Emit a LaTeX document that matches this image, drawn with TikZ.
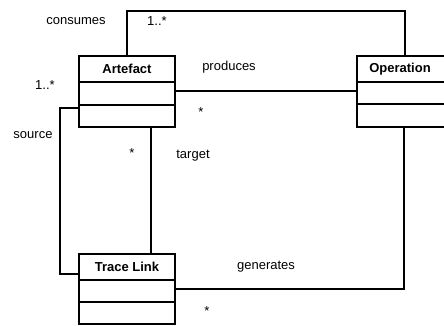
\documentclass[tikz,border=0pt]{standalone}
\usepackage{fontspec}
\setmainfont{Liberation Sans}
\begin{document}
\begin{tikzpicture}[x=1pt,y=-1pt,
  line width=1.1pt,
  lbl/.style={font=\fontsize{13}{15}\selectfont, inner sep=0pt},
  cname/.style={font=\fontsize{13}{15}\selectfont\bfseries, inner sep=0pt},
  assoc/.style={draw, line width=1.1pt}]
\useasboundingbox (0,0) rectangle (444,325);

% UML class box with three compartments:
% #1 node name, #2 left, #3 top, #4 right, #5 bottom,
% #6 and #7 the two compartment dividers
\newcommand{\umlclass}[7]{%
  \draw (#2,#3) rectangle (#4,#5);
  \draw (#2,#6) -- (#4,#6);
  \draw (#2,#7) -- (#4,#7);
  \node[inner sep=0pt, minimum width=#4-#2, minimum height=#5-#3,
        anchor=north west] (#1) at (#2,#3) {};
}

\umlclass{art}{79}{56}{175}{127}{82}{105}
\node[cname] (artname) at (127,69) {Artefact};
% the Operation box runs past the right edge of the page
\umlclass{op}{357}{56}{452}{127}{82}{104}
\node[cname] (opname) at (400,69) {Operation};
\umlclass{tl}{79}{254}{175}{324}{280}{302}
\node[cname] (tlname) at (127,267) {Trace Link};

% consumes: Artefact top to Operation top
\coordinate (c1) at (127,11);
\coordinate (c2) at (405,11);
\draw[assoc] (art.north -| c1) -- (c1) -- (c2) -- (op.north -| c2);

% produces
\coordinate (p1) at (175,91);
\draw[assoc] (p1) -- (op.west |- p1);

% source
\coordinate (s1) at (79,108);
\coordinate (s2) at (60,108);
\coordinate (s3) at (60,274);
\draw[assoc] (s1) -- (s2) -- (s3) -- (tl.west |- s3);

% target
\coordinate (t1) at (151,127);
\draw[assoc] (t1) -- (tl.north -| t1);

% generates
\coordinate (g1) at (175,289);
\coordinate (g2) at (404,289);
\draw[assoc] (g1) -- (g2) -- (op.south -| g2);

% association labels and multiplicities
\node[lbl] (lconsumes) at (76,21) {consumes};
\node[lbl] (lm1) at (157,21) {1..*};
\node[lbl] (lm2) at (45,85) {1..*};
\node[lbl] (lproduces) at (229,67) {produces};
\node[lbl] (lm3) at (201,112) {*};
\node[lbl] (lsource) at (33,135) {source};
\node[lbl] (lm4) at (132,153) {*};
\node[lbl] (ltarget) at (193,156) {target};
\node[lbl] (lgenerates) at (266,267) {generates};
\node[lbl] (lm5) at (207,311) {*};
\end{tikzpicture}
\end{document}
